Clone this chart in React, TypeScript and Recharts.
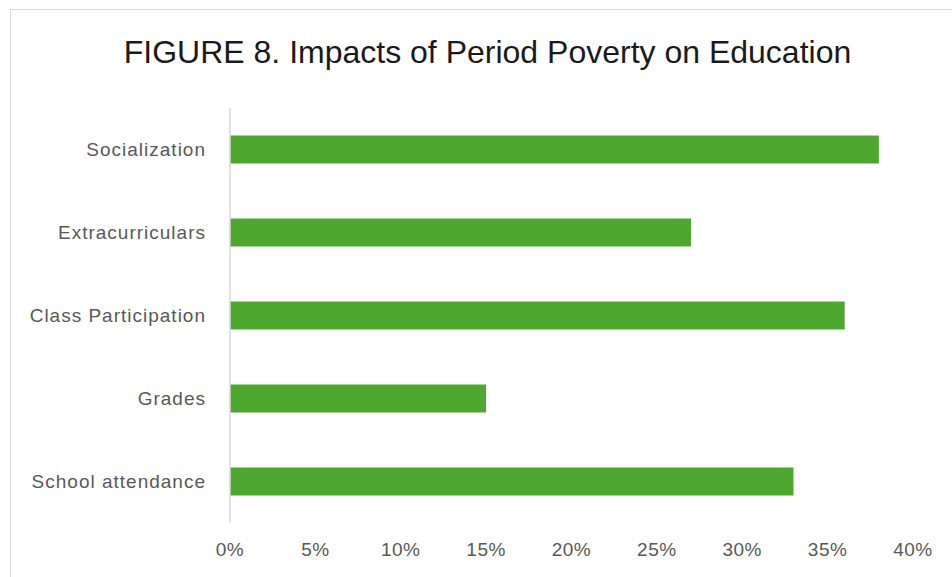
import { BarChart, Bar, XAxis, YAxis } from 'recharts'

const categories = [
  'Socialization',
  'Extracurriculars',
  'Class Participation',
  'Grades',
  'School attendance',
]
const shares = [38, 27, 36, 15, 33]
const xTicks = [0, 5, 10, 15, 20, 25, 30, 35, 40]

const data = categories.map((name, i) => ({ name, value: shares[i] }))

const FONT = '"Liberation Sans", Arial, sans-serif'

export default function App() {
  return (
    <div
      style={{
        position: 'absolute',
        left: 0,
        top: 0,
        width: 952,
        height: 577,
        overflow: 'hidden',
        background: '#fff',
        fontFamily: FONT,
      }}
    >
      {/* chart frame, cropped on the right and bottom */}
      <div
        style={{
          position: 'absolute',
          left: 10,
          top: 9,
          width: 980,
          height: 600,
          border: '1.5px solid #d9d9d9',
          boxSizing: 'border-box',
        }}
      />
      <div
        style={{
          position: 'absolute',
          left: 0,
          top: 30,
          width: 975,
          textAlign: 'center',
          fontSize: 32,
          color: '#1a1a1a',
          lineHeight: '44px',
        }}
      >
        FIGURE 8. Impacts of Period Poverty on Education
      </div>
      <div style={{ position: 'absolute', left: 0, top: 0 }}>
        <BarChart
          width={952}
          height={577}
          data={data}
          layout="vertical"
          margin={{ top: 108, right: 39, bottom: 24, left: 10 }}
          barCategoryGap="33%"
        >
          <XAxis
            type="number"
            domain={[0, 40]}
            ticks={xTicks}
            tickFormatter={(v) => `${v}%`}
            axisLine={false}
            tickLine={false}
            tickSize={0}
            tickMargin={20}
            height={30}
            interval={0}
            tick={{ fill: '#595959', fontSize: 19, fontFamily: FONT, letterSpacing: 0.5 }}
          />
          <YAxis
            type="category"
            dataKey="name"
            width={220}
            axisLine={{ stroke: '#d9d9d9', strokeWidth: 1.5 }}
            tickLine={false}
            tickSize={0}
            tickMargin={24}
            tick={{ fill: '#595959', fontSize: 19, fontFamily: FONT, letterSpacing: 1 }}
          />
          <Bar dataKey="value" fill="#4ea72e" isAnimationActive={false} />
        </BarChart>
      </div>
    </div>
  )
}
